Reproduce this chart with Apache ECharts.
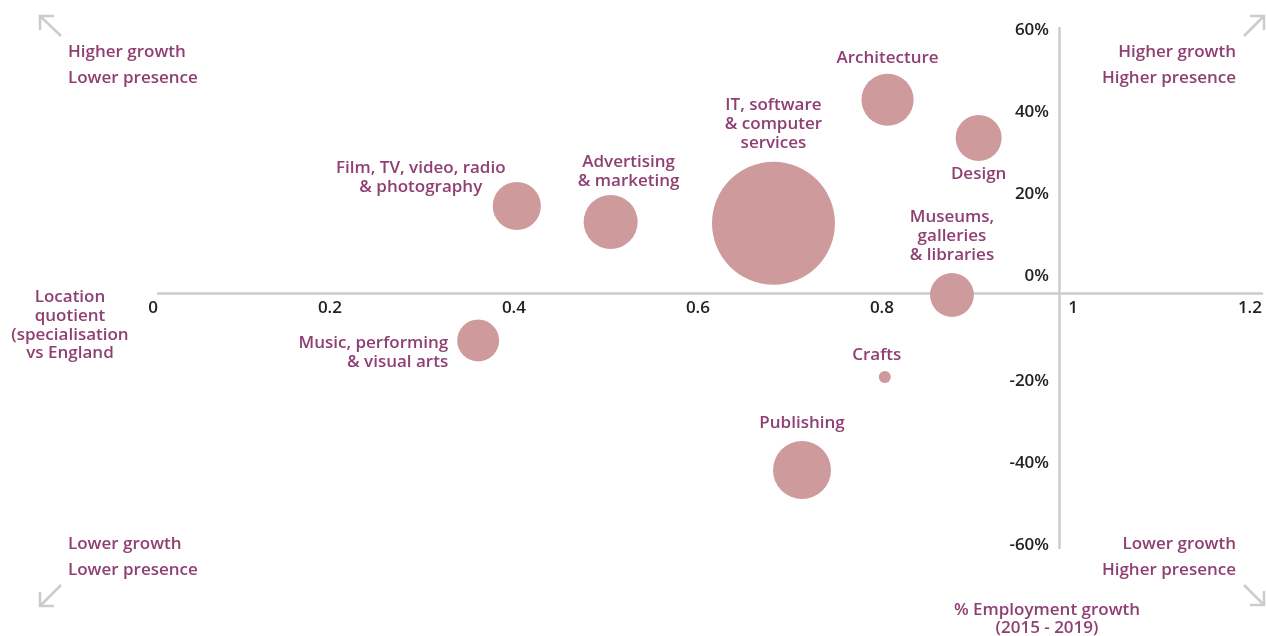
<!DOCTYPE html>
<html>
<head>
<meta charset="utf-8">
<script src="https://cdn.jsdelivr.net/npm/echarts@6/dist/echarts.min.js"></script>
<style>
html,body{margin:0;padding:0;background:#fff;}
#chart{width:1266px;height:636px;}
</style>
</head>
<body>
<div id="chart"></div>
<script>
// ---- Data ----
const categories = [
  'Architecture',
  'Design',
  'IT, software\n& computer\nservices',
  'Film, TV, video, radio\n& photography',
  'Advertising\n& marketing',
  'Museums,\ngalleries\n& libraries',
  'Music, performing\n& visual arts',
  'Crafts',
  'Publishing'
];
const locationQuotient = [0.793, 0.892, 0.669, 0.390, 0.492, 0.863, 0.348, 0.790, 0.700];
const employmentGrowth = [47.1, 37.8, 17.0, 21.2, 17.3, -0.5, -11.6, -20.5, -43.2];
const bubbleSize = [6.8, 5.3, 37.8, 5.8, 7.3, 4.8, 4.4, 0.36, 8.4];
const xTicks = [0, 0.2, 0.4, 0.6, 0.8, 1, 1.2];
const yTicks = [-60, -40, -20, 0, 20, 40, 60];
const quadrantLabels = {
  tl: ['Higher growth', 'Lower presence'],
  tr: ['Higher growth', 'Higher presence'],
  bl: ['Lower growth', 'Lower presence'],
  br: ['Lower growth', 'Higher presence']
};
const xAxisTitle = 'Location\nquotient\n(specialisation\nvs England';
const yAxisTitle = '% Employment growth\n(2015 - 2019)';

// ---- Styles / layout ----
const PURPLE = '#8f3f72';
const BUBBLE = '#cf9a9c';
const AXIS = '#cccccc';
const FONT = '"Open Sans", sans-serif';
const FS = 17;
const labelLayouts = [
  {position: 'top', distance: 6},
  {position: 'bottom', distance: 4},
  {position: 'top', distance: 9},
  {position: 'top', distance: 5, offset: [-96, 20]},
  {position: 'top', distance: 4, offset: [18, 0]},
  {position: 'top', distance: 8},
  {position: 'left', distance: 9, offset: [0, 12], align: 'right'},
  {position: 'top', distance: 6, offset: [-8, 0]},
  {position: 'top', distance: 8}
];

const seriesData = categories.map((c, i) => ({
  name: c,
  value: [locationQuotient[i], employmentGrowth[i], bubbleSize[i]],
  label: Object.assign({show: true}, labelLayouts[i])
}));

const qFont = '600 ' + FS + 'px ' + FONT;
function qText(lines, x, yFirst, align) {
  return lines.map((t, k) => ({
    type: 'text',
    style: {text: t, x: x, y: yFirst + k * 26, fill: PURPLE, font: qFont,
            textAlign: align, textVerticalAlign: 'middle'}
  }));
}
function arrow(points) {
  return {type: 'polyline', shape: {points: points},
          style: {stroke: AXIS, lineWidth: 2.5, fill: null}};
}

const chart = echarts.init(document.getElementById('chart'), null, {renderer: 'canvas'});
chart.setOption({
  animation: false,
  backgroundColor: '#fff',
  grid: {left: 158, right: 4, top: 28, height: 520},
  xAxis: {
    type: 'value', min: 0, max: 1.2, interval: 0.2,
    position: 'bottom', offset: -255,
    splitLine: {show: false},
    axisTick: {show: false},
    axisLine: {show: true, onZero: false, lineStyle: {color: AXIS, width: 2.5}},
    axisLabel: {
      color: '#222', fontFamily: FONT, fontWeight: 600, fontSize: FS,
      align: 'right', margin: 7, showMinLabel: true, showMaxLabel: true,
      customValues: xTicks,
      formatter: v => String(Math.round(v * 10) / 10)
    }
  },
  yAxis: {
    type: 'value', min: -62.2, max: 64.6,
    offset: -901,
    splitLine: {show: false},
    axisTick: {show: false},
    axisLine: {show: true, onZero: false, lineStyle: {color: AXIS, width: 2.5}},
    axisLabel: {
      customValues: yTicks,
      margin: 10,
      formatter: v => (v >= 0 ? '{p|' : '{n|') + Math.round(v) + '%}',
      rich: {
        p: {color: '#222', fontFamily: FONT, fontWeight: 600, fontSize: FS, padding: [0, 0, 34, 0]},
        n: {color: '#222', fontFamily: FONT, fontWeight: 600, fontSize: FS, padding: [12, 0, 0, 0]}
      }
    }
  },
  series: [{
    type: 'scatter',
    data: seriesData,
    symbolSize: d => 20 * Math.sqrt(d[2]),
    itemStyle: {color: BUBBLE, opacity: 1},
    label: {
      show: true,
      formatter: p => p.name,
      color: PURPLE, fontFamily: FONT, fontWeight: 600, fontSize: FS,
      lineHeight: 19
    },
    emphasis: {disabled: true}
  }],
  graphic: [].concat(
    qText(quadrantLabels.tl, 68, 52, 'left'),
    qText(quadrantLabels.tr, 1236, 52, 'right'),
    qText(quadrantLabels.bl, 68, 544, 'left'),
    qText(quadrantLabels.br, 1236, 544, 'right'),
    [
      {type: 'text', style: {text: xAxisTitle, x: 70, y: 288, fill: PURPLE, font: qFont,
        textAlign: 'center', textVerticalAlign: 'top', lineHeight: 18.7}},
      {type: 'text', style: {text: yAxisTitle, x: 1047, y: 601, fill: PURPLE, font: qFont,
        textAlign: 'center', textVerticalAlign: 'top', lineHeight: 18}},
      arrow([[61, 36], [40, 16]]), arrow([[54, 16], [40, 16], [40, 30]]),
      arrow([[61, 585], [40, 606]]), arrow([[40, 592], [40, 606], [54, 606]]),
      arrow([[1244, 36], [1264, 16]]), arrow([[1250, 16], [1264, 16], [1264, 30]]),
      arrow([[1244, 585], [1264, 605]]), arrow([[1250, 605], [1264, 605], [1264, 591]])
    ]
  )
});
</script>
</body>
</html>
